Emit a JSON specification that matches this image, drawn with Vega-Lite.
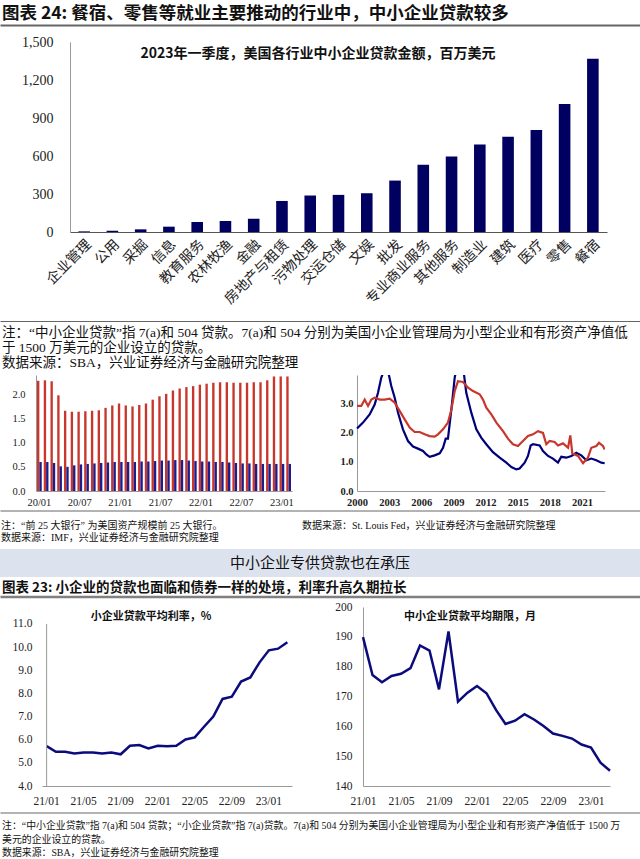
{
"$schema": "https://vega.github.io/schema/vega-lite/v6.json",
"background": "white",
"padding": 0,
"spacing": 0,
"config": {"view": {"stroke": null}, "axis": {"grid": false, "ticks": false, "labelOverlap": false, "labelColor": "#222", "labelFont": "Liberation Serif", "domainColor": "#999", "minExtent": 0}},
"vconcat": [
{
 "width": 640, "height": 35,
 "data": {"values": [{"t": "图表 24: 餐宿、零售等就业主要推动的行业中，中小企业贷款较多"}]},
 "mark": {"type": "text", "align": "left", "baseline": "middle", "font": "Noto Sans CJK SC", "fontSize": 17.5, "fontWeight": "bold", "color": "#111", "dx": 2, "dy": -4},
 "encoding": {
  "text": {"field": "t", "type": "nominal"},
  "x": {"datum": 0, "type": "quantitative", "scale": {"domain": [0, 1]}, "axis": {"orient": "top", "offset": -25, "labels": false, "ticks": false, "domainColor": "#666", "domainWidth": 2, "title": null}}
 }
},
{
 "width": 607, "height": 190,
 "layer": [
  {
   "data": {"values": [
    {"industry": "企业管理", "loans": 5},
    {"industry": "公用", "loans": 10},
    {"industry": "采掘", "loans": 21},
    {"industry": "信息", "loans": 42},
    {"industry": "教育服务", "loans": 79},
    {"industry": "农林牧渔", "loans": 87},
    {"industry": "金融", "loans": 105},
    {"industry": "房地产与租赁", "loans": 245},
    {"industry": "污物处理", "loans": 288},
    {"industry": "交运仓储", "loans": 293},
    {"industry": "文娱", "loans": 306},
    {"industry": "批发", "loans": 406},
    {"industry": "专业商业服务", "loans": 530},
    {"industry": "其他服务", "loans": 596},
    {"industry": "制造业", "loans": 691},
    {"industry": "建筑", "loans": 752},
    {"industry": "医疗", "loans": 805},
    {"industry": "零售", "loans": 1010},
    {"industry": "餐宿", "loans": 1368}
   ]},
   "mark": {"type": "bar", "color": "#000060"},
   "encoding": {
    "x": {"field": "industry", "type": "nominal", "sort": null, "scale": {"range": [70, 607], "paddingInner": 0.59, "paddingOuter": 0.295},
      "axis": {"title": null, "labelAngle": -45, "labelFont": "Noto Sans CJK SC", "labelFontSize": 14, "labelPadding": 5, "labelBound": false, "domainColor": "#555", "minExtent": 80, "maxExtent": 80}},
    "y": {"field": "loans", "type": "quantitative", "scale": {"domain": [0, 1500], "nice": false},
      "axis": {"title": null, "offset": -70, "values": [0, 300, 600, 900, 1200, 1500], "format": ",d", "labelFontSize": 14, "labelPadding": 17}}
   }
  },
  {
   "data": {"values": [{"t": "2023年一季度，美国各行业中小企业贷款金额，百万美元"}]},
   "mark": {"type": "text", "font": "Noto Sans CJK SC", "fontWeight": "bold", "fontSize": 14, "color": "#111", "dx": 14.5, "dy": -83},
   "encoding": {"text": {"field": "t", "type": "nominal"}}
  }
 ]
},
{
 "width": 640, "height": 63,
 "data": {"values": [
  {"line": 1, "t": "注：“中小企业贷款”指 7(a)和 504 贷款。7(a)和 504 分别为美国小企业管理局为小型企业和有形资产净值低"},
  {"line": 2, "t": "于 1500 万美元的企业设立的贷款。"},
  {"line": 3, "t": "数据来源：SBA，兴业证券经济与金融研究院整理"}
 ]},
 "mark": {"type": "text", "align": "left", "baseline": "middle", "font": "'Liberation Serif', 'Noto Sans CJK SC'", "fontSize": 13.5, "color": "#111", "dx": 2},
 "encoding": {
  "text": {"field": "t", "type": "nominal"},
  "y": {"field": "line", "type": "ordinal", "scale": {"type": "point", "padding": 0, "range": [21, 51]}, "axis": null},
  "x": {"datum": 0, "type": "quantitative", "scale": {"domain": [0, 1]}, "axis": {"orient": "top", "offset": -9, "labels": false, "ticks": false, "domainColor": "#666", "domainWidth": 1.2, "title": null}}
 }
},
{
 "bounds": "flush",
 "spacing": 30,
 "resolve": {"scale": {"color": "independent"}},
 "hconcat": [
  {
   "width": 292, "height": 116,
   "data": {"values": [
    {"m": "20/01", "series": "系列1", "v": 2.28}, {"m": "20/01", "series": "系列2", "v": 0.60},
    {"m": "20/02", "series": "系列1", "v": 2.29}, {"m": "20/02", "series": "系列2", "v": 0.60},
    {"m": "20/03", "series": "系列1", "v": 2.27}, {"m": "20/03", "series": "系列2", "v": 0.58},
    {"m": "20/04", "series": "系列1", "v": 1.98}, {"m": "20/04", "series": "系列2", "v": 0.51},
    {"m": "20/05", "series": "系列1", "v": 1.66}, {"m": "20/05", "series": "系列2", "v": 0.50},
    {"m": "20/06", "series": "系列1", "v": 1.64}, {"m": "20/06", "series": "系列2", "v": 0.53},
    {"m": "20/07", "series": "系列1", "v": 1.64}, {"m": "20/07", "series": "系列2", "v": 0.55},
    {"m": "20/08", "series": "系列1", "v": 1.65}, {"m": "20/08", "series": "系列2", "v": 0.56},
    {"m": "20/09", "series": "系列1", "v": 1.66}, {"m": "20/09", "series": "系列2", "v": 0.57},
    {"m": "20/10", "series": "系列1", "v": 1.67}, {"m": "20/10", "series": "系列2", "v": 0.58},
    {"m": "20/11", "series": "系列1", "v": 1.72}, {"m": "20/11", "series": "系列2", "v": 0.59},
    {"m": "20/12", "series": "系列1", "v": 1.77}, {"m": "20/12", "series": "系列2", "v": 0.60},
    {"m": "21/01", "series": "系列1", "v": 1.81}, {"m": "21/01", "series": "系列2", "v": 0.60},
    {"m": "21/02", "series": "系列1", "v": 1.77}, {"m": "21/02", "series": "系列2", "v": 0.60},
    {"m": "21/03", "series": "系列1", "v": 1.75}, {"m": "21/03", "series": "系列2", "v": 0.60},
    {"m": "21/04", "series": "系列1", "v": 1.78}, {"m": "21/04", "series": "系列2", "v": 0.61},
    {"m": "21/05", "series": "系列1", "v": 1.81}, {"m": "21/05", "series": "系列2", "v": 0.61},
    {"m": "21/06", "series": "系列1", "v": 1.89}, {"m": "21/06", "series": "系列2", "v": 0.62},
    {"m": "21/07", "series": "系列1", "v": 1.96}, {"m": "21/07", "series": "系列2", "v": 0.63},
    {"m": "21/08", "series": "系列1", "v": 2.01}, {"m": "21/08", "series": "系列2", "v": 0.63},
    {"m": "21/09", "series": "系列1", "v": 2.08}, {"m": "21/09", "series": "系列2", "v": 0.64},
    {"m": "21/10", "series": "系列1", "v": 2.12}, {"m": "21/10", "series": "系列2", "v": 0.64},
    {"m": "21/11", "series": "系列1", "v": 2.15}, {"m": "21/11", "series": "系列2", "v": 0.63},
    {"m": "21/12", "series": "系列1", "v": 2.17}, {"m": "21/12", "series": "系列2", "v": 0.62},
    {"m": "22/01", "series": "系列1", "v": 2.20}, {"m": "22/01", "series": "系列2", "v": 0.61},
    {"m": "22/02", "series": "系列1", "v": 2.22}, {"m": "22/02", "series": "系列2", "v": 0.61},
    {"m": "22/03", "series": "系列1", "v": 2.24}, {"m": "22/03", "series": "系列2", "v": 0.60},
    {"m": "22/04", "series": "系列1", "v": 2.25}, {"m": "22/04", "series": "系列2", "v": 0.60},
    {"m": "22/05", "series": "系列1", "v": 2.25}, {"m": "22/05", "series": "系列2", "v": 0.59},
    {"m": "22/06", "series": "系列1", "v": 2.24}, {"m": "22/06", "series": "系列2", "v": 0.58},
    {"m": "22/07", "series": "系列1", "v": 2.24}, {"m": "22/07", "series": "系列2", "v": 0.57},
    {"m": "22/08", "series": "系列1", "v": 2.24}, {"m": "22/08", "series": "系列2", "v": 0.57},
    {"m": "22/09", "series": "系列1", "v": 2.25}, {"m": "22/09", "series": "系列2", "v": 0.56},
    {"m": "22/10", "series": "系列1", "v": 2.25}, {"m": "22/10", "series": "系列2", "v": 0.56},
    {"m": "22/11", "series": "系列1", "v": 2.29}, {"m": "22/11", "series": "系列2", "v": 0.56},
    {"m": "22/12", "series": "系列1", "v": 2.37}, {"m": "22/12", "series": "系列2", "v": 0.56},
    {"m": "23/01", "series": "系列1", "v": 2.37}, {"m": "23/01", "series": "系列2", "v": 0.56},
    {"m": "23/02", "series": "系列1", "v": 2.37}, {"m": "23/02", "series": "系列2", "v": 0.56}
   ]},
   "mark": {"type": "bar"},
   "encoding": {
    "x": {"field": "m", "type": "ordinal", "scale": {"range": [36, 292], "paddingInner": 0.3, "paddingOuter": 0.15},
      "axis": {"title": null, "values": ["20/01", "20/07", "21/01", "21/07", "22/01", "22/07", "23/01"], "labelAngle": 0, "labelFontSize": 10.5, "labelPadding": 6, "minExtent": 19, "maxExtent": 19}},
    "xOffset": {"field": "series", "type": "nominal", "sort": ["系列1", "系列2"]},
    "y": {"field": "v", "type": "quantitative", "scale": {"domain": [0, 2.4], "nice": false},
      "axis": {"title": null, "offset": -36, "values": [0, 0.5, 1, 1.5, 2], "format": ".1f", "labelFontSize": 10.5, "labelPadding": 11}},
    "color": {"field": "series", "type": "nominal", "scale": {"domain": ["系列1", "系列2"], "range": ["#c8372d", "#1c1c8c"]}, "legend": null}
   }
  },
  {
   "width": 283, "height": 116,
   "data": {"values": [
    {"year": 2000.0, "series": "蓝线", "v": 2.14}, {"year": 2000.56, "series": "蓝线", "v": 2.34}, {"year": 2001.18, "series": "蓝线", "v": 2.62}, {"year": 2001.65, "series": "蓝线", "v": 2.96}, {"year": 2001.96, "series": "蓝线", "v": 3.36}, {"year": 2002.27, "series": "蓝线", "v": 3.88}, {"year": 2002.6, "series": "蓝线", "v": 4.2}, {"year": 2002.9, "series": "蓝线", "v": 4.1}, {"year": 2003.2, "series": "蓝线", "v": 3.59}, {"year": 2003.52, "series": "蓝线", "v": 3.19}, {"year": 2003.83, "series": "蓝线", "v": 2.68}, {"year": 2004.29, "series": "蓝线", "v": 2.11}, {"year": 2004.76, "series": "蓝线", "v": 1.71}, {"year": 2005.23, "series": "蓝线", "v": 1.52}, {"year": 2005.69, "series": "蓝线", "v": 1.45}, {"year": 2006.16, "series": "蓝线", "v": 1.37}, {"year": 2006.47, "series": "蓝线", "v": 1.25}, {"year": 2006.78, "series": "蓝线", "v": 1.17}, {"year": 2007.25, "series": "蓝线", "v": 1.22}, {"year": 2007.72, "series": "蓝线", "v": 1.29}, {"year": 2008.03, "series": "蓝线", "v": 1.48}, {"year": 2008.28, "series": "蓝线", "v": 1.79}, {"year": 2008.49, "series": "蓝线", "v": 1.79}, {"year": 2008.81, "series": "蓝线", "v": 2.79}, {"year": 2009.12, "series": "蓝线", "v": 3.88}, {"year": 2009.4, "series": "蓝线", "v": 4.4}, {"year": 2009.95, "series": "蓝线", "v": 4.1}, {"year": 2010.2, "series": "蓝线", "v": 3.36}, {"year": 2010.67, "series": "蓝线", "v": 2.68}, {"year": 2011.14, "series": "蓝线", "v": 2.11}, {"year": 2011.61, "series": "蓝线", "v": 1.82}, {"year": 2012.07, "series": "蓝线", "v": 1.6}, {"year": 2012.69, "series": "蓝线", "v": 1.33}, {"year": 2013.32, "series": "蓝线", "v": 1.14}, {"year": 2013.94, "series": "蓝线", "v": 0.97}, {"year": 2014.41, "series": "蓝线", "v": 0.82}, {"year": 2014.87, "series": "蓝线", "v": 0.74}, {"year": 2015.18, "series": "蓝线", "v": 0.77}, {"year": 2015.65, "series": "蓝线", "v": 0.97}, {"year": 2015.96, "series": "蓝线", "v": 1.2}, {"year": 2016.21, "series": "蓝线", "v": 1.56}, {"year": 2016.43, "series": "蓝线", "v": 1.6}, {"year": 2017.05, "series": "蓝线", "v": 1.56}, {"year": 2017.36, "series": "蓝线", "v": 1.37}, {"year": 2017.83, "series": "蓝线", "v": 1.2}, {"year": 2018.29, "series": "蓝线", "v": 1.11}, {"year": 2018.76, "series": "蓝线", "v": 0.97}, {"year": 2019.07, "series": "蓝线", "v": 1.17}, {"year": 2019.54, "series": "蓝线", "v": 1.14}, {"year": 2020.01, "series": "蓝线", "v": 1.2}, {"year": 2020.47, "series": "蓝线", "v": 1.31}, {"year": 2020.94, "series": "蓝线", "v": 1.22}, {"year": 2021.41, "series": "蓝线", "v": 1.05}, {"year": 2021.87, "series": "蓝线", "v": 1.11}, {"year": 2022.34, "series": "蓝线", "v": 1.05}, {"year": 2022.81, "series": "蓝线", "v": 0.97}, {"year": 2023.12, "series": "蓝线", "v": 0.95},
    {"year": 2000.0, "series": "红线", "v": 2.91}, {"year": 2000.4, "series": "红线", "v": 2.91}, {"year": 2000.72, "series": "红线", "v": 3.13}, {"year": 2001.03, "series": "红线", "v": 2.91}, {"year": 2001.34, "series": "红线", "v": 3.13}, {"year": 2001.65, "series": "红线", "v": 3.19}, {"year": 2002.12, "series": "红线", "v": 3.13}, {"year": 2002.58, "series": "红线", "v": 3.13}, {"year": 2003.05, "series": "红线", "v": 3.16}, {"year": 2003.52, "series": "红线", "v": 3.02}, {"year": 2003.98, "series": "红线", "v": 2.74}, {"year": 2004.45, "series": "红线", "v": 2.45}, {"year": 2004.92, "series": "红线", "v": 2.17}, {"year": 2005.38, "series": "红线", "v": 2.02}, {"year": 2005.85, "series": "红线", "v": 2.02}, {"year": 2006.32, "series": "红线", "v": 1.94}, {"year": 2006.78, "series": "红线", "v": 1.88}, {"year": 2007.25, "series": "红线", "v": 1.86}, {"year": 2007.56, "series": "红线", "v": 1.94}, {"year": 2008.03, "series": "红线", "v": 2.11}, {"year": 2008.49, "series": "红线", "v": 2.34}, {"year": 2008.81, "series": "红线", "v": 2.79}, {"year": 2009.12, "series": "红线", "v": 3.42}, {"year": 2009.43, "series": "红线", "v": 3.76}, {"year": 2009.89, "series": "红线", "v": 3.73}, {"year": 2010.36, "series": "红线", "v": 3.54}, {"year": 2010.83, "series": "红线", "v": 3.42}, {"year": 2011.45, "series": "红线", "v": 3.31}, {"year": 2011.76, "series": "红线", "v": 3.13}, {"year": 2012.07, "series": "红线", "v": 2.85}, {"year": 2012.54, "series": "红线", "v": 2.62}, {"year": 2013.01, "series": "红线", "v": 2.34}, {"year": 2013.63, "series": "红线", "v": 2.05}, {"year": 2014.09, "series": "红线", "v": 1.79}, {"year": 2014.56, "series": "红线", "v": 1.6}, {"year": 2015.03, "series": "红线", "v": 1.54}, {"year": 2015.49, "series": "红线", "v": 1.71}, {"year": 2015.96, "series": "红线", "v": 1.88}, {"year": 2016.43, "series": "红线", "v": 1.94}, {"year": 2016.89, "series": "红线", "v": 2.05}, {"year": 2017.36, "series": "红线", "v": 1.99}, {"year": 2017.67, "series": "红线", "v": 1.6}, {"year": 2017.98, "series": "红线", "v": 1.71}, {"year": 2018.45, "series": "红线", "v": 1.68}, {"year": 2018.76, "series": "红线", "v": 1.56}, {"year": 2019.23, "series": "红线", "v": 1.63}, {"year": 2019.7, "series": "红线", "v": 1.48}, {"year": 2019.91, "series": "红线", "v": 1.9}, {"year": 2020.1, "series": "红线", "v": 1.29}, {"year": 2020.63, "series": "红线", "v": 1.2}, {"year": 2021.1, "series": "红线", "v": 0.95}, {"year": 2021.56, "series": "红线", "v": 1.14}, {"year": 2021.87, "series": "红线", "v": 1.48}, {"year": 2022.34, "series": "红线", "v": 1.54}, {"year": 2022.59, "series": "红线", "v": 1.65}, {"year": 2022.96, "series": "红线", "v": 1.54}, {"year": 2023.12, "series": "红线", "v": 1.42}
   ]},
   "mark": {"type": "line", "clip": true, "strokeWidth": 2.2},
   "encoding": {
    "x": {"field": "year", "type": "quantitative", "scale": {"domain": [2000, 2023.15], "range": [35, 283], "nice": false, "zero": false},
      "axis": {"title": null, "values": [2000, 2003, 2006, 2009, 2012, 2015, 2018, 2021], "format": "d", "labelFlush": false, "labelFontSize": 10.5, "labelFontWeight": "bold", "labelPadding": 6, "minExtent": 19, "maxExtent": 19}},
    "y": {"field": "v", "type": "quantitative", "scale": {"domain": [0, 3.97], "nice": false},
      "axis": {"title": null, "offset": -35, "values": [0, 1, 2, 3], "format": ".1f", "labelFontSize": 10.5, "labelFontWeight": "bold", "labelPadding": 4}},
    "color": {"field": "series", "type": "nominal", "scale": {"domain": ["蓝线", "红线"], "range": ["#00007a", "#c8372d"]}, "legend": null}
   }
  }
 ]
},
{
 "spacing": 0,
 "hconcat": [
  {
   "width": 302, "height": 39,
   "data": {"values": [
    {"line": 1, "t": "注：“前 25 大银行” 为美国资产规模前 25 大银行。"},
    {"line": 2, "t": "数据来源：IMF，兴业证券经济与金融研究院整理"}
   ]},
   "mark": {"type": "text", "align": "left", "baseline": "middle", "font": "'Liberation Serif', 'Noto Sans CJK SC'", "fontSize": 10, "color": "#111", "dx": 1},
   "encoding": {
    "text": {"field": "t", "type": "nominal"},
    "y": {"field": "line", "type": "ordinal", "scale": {"type": "point", "padding": 0, "domain": [1, 2], "range": [15.5, 28]}, "axis": null},
    "x": {"datum": 0, "type": "quantitative", "scale": {"domain": [0, 1]}, "axis": {"orient": "top", "offset": -0.5, "labels": false, "ticks": false, "domainColor": "#666", "domainWidth": 1, "title": null}}
   }
  },
  {
   "width": 338, "height": 39,
   "data": {"values": [
    {"line": 1, "t": "数据来源：St. Louis Fed，兴业证券经济与金融研究院整理"}
   ]},
   "mark": {"type": "text", "align": "left", "baseline": "middle", "font": "'Liberation Serif', 'Noto Sans CJK SC'", "fontSize": 10, "color": "#111"},
   "encoding": {
    "text": {"field": "t", "type": "nominal"},
    "y": {"field": "line", "type": "ordinal", "scale": {"type": "point", "padding": 0, "domain": [1, 2], "range": [15.5, 28]}, "axis": null},
    "x": {"datum": 0, "type": "quantitative", "scale": {"domain": [0, 1]}, "axis": {"orient": "top", "offset": -0.5, "labels": false, "ticks": false, "domainColor": "#666", "domainWidth": 1, "title": null}}
   }
  }
 ]
},
{
 "width": 640, "height": 28,
 "view": {"fill": "#dde3ee", "stroke": null},
 "data": {"values": [{"t": "中小企业专供贷款也在承压"}]},
 "mark": {"type": "text", "font": "Noto Sans CJK SC", "fontSize": 15, "color": "#111"},
 "encoding": {"text": {"field": "t", "type": "nominal"}}
},
{
 "width": 640, "height": 24,
 "data": {"values": [{"t": "图表 23: 小企业的贷款也面临和债券一样的处境，利率升高久期拉长"}]},
 "mark": {"type": "text", "align": "left", "baseline": "middle", "font": "Noto Sans CJK SC", "fontSize": 13.5, "fontWeight": "bold", "color": "#111", "dx": 2, "dy": -1},
 "encoding": {
  "text": {"field": "t", "type": "nominal"},
  "x": {"datum": 0, "type": "quantitative", "scale": {"domain": [0, 1]}, "axis": {"orient": "top", "offset": -19.5, "labels": false, "ticks": false, "domainColor": "#808080", "domainWidth": 2.5, "title": null}}
 }
},
{
 "bounds": "flush",
 "spacing": 30,
 "hconcat": [
  {
   "width": 292, "height": 179,
   "layer": [
    {
     "data": {"values": [
      {"m": "21/01", "rate": 5.72}, {"m": "21/02", "rate": 5.48}, {"m": "21/03", "rate": 5.48}, {"m": "21/04", "rate": 5.40}, {"m": "21/05", "rate": 5.45}, {"m": "21/06", "rate": 5.45}, {"m": "21/07", "rate": 5.40}, {"m": "21/08", "rate": 5.45}, {"m": "21/09", "rate": 5.37}, {"m": "21/10", "rate": 5.74}, {"m": "21/11", "rate": 5.77}, {"m": "21/12", "rate": 5.62},
      {"m": "22/01", "rate": 5.74}, {"m": "22/02", "rate": 5.72}, {"m": "22/03", "rate": 5.74}, {"m": "22/04", "rate": 6.01}, {"m": "22/05", "rate": 6.10}, {"m": "22/06", "rate": 6.56}, {"m": "22/07", "rate": 7.00}, {"m": "22/08", "rate": 7.76}, {"m": "22/09", "rate": 7.86}, {"m": "22/10", "rate": 8.51}, {"m": "22/11", "rate": 8.69}, {"m": "22/12", "rate": 9.34},
      {"m": "23/01", "rate": 9.86}, {"m": "23/02", "rate": 9.93}, {"m": "23/03", "rate": 10.21}
     ]},
     "mark": {"type": "line", "color": "#0b0b7d", "strokeWidth": 2.5},
     "encoding": {
      "x": {"field": "m", "type": "ordinal", "scale": {"padding": 0, "range": [42, 292]},
        "axis": {"title": null, "values": ["21/01", "21/05", "21/09", "22/01", "22/05", "22/09", "23/01"], "labelAngle": 0, "labelFontSize": 11.5, "labelPadding": 9, "minExtent": 26, "maxExtent": 26}},
      "y": {"field": "rate", "type": "quantitative", "scale": {"domain": [4, 11.73], "nice": false, "zero": false},
        "axis": {"title": null, "offset": -42, "values": [4, 5, 6, 7, 8, 9, 10, 11], "format": ".1f", "domain": false, "labelFontSize": 11.5, "labelPadding": 10}}
     }
    },
    {
     "data": {"values": [{"part": "y轴"}]},
     "mark": {"type": "rule", "color": "#999"},
     "encoding": {
      "x": {"datum": "21/01", "type": "ordinal", "axis": {"title": null, "values": ["21/01", "21/05", "21/09", "22/01", "22/05", "22/09", "23/01"], "labelAngle": 0, "labelFontSize": 11.5, "labelPadding": 9, "minExtent": 26, "maxExtent": 26}},
      "y": {"datum": 4, "type": "quantitative", "axis": {"title": null, "offset": -42, "values": [4, 5, 6, 7, 8, 9, 10, 11], "format": ".1f", "domain": false, "labelFontSize": 11.5, "labelPadding": 10}},
      "y2": {"datum": 11}
     }
    },
    {
     "data": {"values": [{"t": "小企业贷款平均利率，%"}]},
     "mark": {"type": "text", "font": "Noto Sans CJK SC", "fontWeight": "bold", "fontSize": 11, "color": "#111", "dx": 5, "dy": -79.5},
     "encoding": {"text": {"field": "t", "type": "nominal"}}
    }
   ]
  },
  {
   "width": 288, "height": 179,
   "layer": [
    {
     "data": {"values": [
      {"m": "21/01", "term": 189.9}, {"m": "21/02", "term": 177.2}, {"m": "21/03", "term": 174.8}, {"m": "21/04", "term": 176.9}, {"m": "21/05", "term": 177.6}, {"m": "21/06", "term": 179.5}, {"m": "21/07", "term": 187.1}, {"m": "21/08", "term": 185.4}, {"m": "21/09", "term": 172.4}, {"m": "21/10", "term": 191.8}, {"m": "21/11", "term": 168.3}, {"m": "21/12", "term": 171.3},
      {"m": "22/01", "term": 173.5}, {"m": "22/02", "term": 171.1}, {"m": "22/03", "term": 165.5}, {"m": "22/04", "term": 160.8}, {"m": "22/05", "term": 161.9}, {"m": "22/06", "term": 164.1}, {"m": "22/07", "term": 162.3}, {"m": "22/08", "term": 160.1}, {"m": "22/09", "term": 157.6}, {"m": "22/10", "term": 156.8}, {"m": "22/11", "term": 155.9}, {"m": "22/12", "term": 153.9},
      {"m": "23/01", "term": 152.9}, {"m": "23/02", "term": 147.8}, {"m": "23/03", "term": 145.1}
     ]},
     "mark": {"type": "line", "color": "#0b0b7d", "strokeWidth": 2.5},
     "encoding": {
      "x": {"field": "m", "type": "ordinal", "scale": {"padding": 0, "range": [41, 288]},
        "axis": {"title": null, "values": ["21/01", "21/05", "21/09", "22/01", "22/05", "22/09", "23/01"], "labelAngle": 0, "labelFontSize": 11.5, "labelPadding": 9, "minExtent": 26, "maxExtent": 26}},
      "y": {"field": "term", "type": "quantitative", "scale": {"domain": [140, 200], "nice": false, "zero": false},
        "axis": {"title": null, "offset": -41, "values": [140, 150, 160, 170, 180, 190, 200], "format": "d", "labelFontSize": 11.5, "labelPadding": 11}}
     }
    },
    {
     "data": {"values": [{"t": "中小企业贷款平均期限，月"}]},
     "mark": {"type": "text", "font": "Noto Sans CJK SC", "fontWeight": "bold", "fontSize": 11, "color": "#111", "dx": 4, "dy": -79.5},
     "encoding": {"text": {"field": "t", "type": "nominal"}}
    }
   ]
  }
 ]
},
{
 "width": 640, "height": 47,
 "data": {"values": [
  {"line": 1, "t": "注：“中小企业贷款”指 7(a)和 504 贷款；“小企业贷款”指 7(a)贷款。7(a)和 504 分别为美国小企业管理局为小型企业和有形资产净值低于 1500 万"},
  {"line": 2, "t": "美元的企业设立的贷款。"},
  {"line": 3, "t": "数据来源：SBA，兴业证券经济与金融研究院整理"}
 ]},
 "mark": {"type": "text", "align": "left", "baseline": "middle", "font": "'Liberation Serif', 'Noto Sans CJK SC'", "fontSize": 9.9, "color": "#111", "dx": 2},
 "encoding": {
  "text": {"field": "t", "type": "nominal"},
  "y": {"field": "line", "type": "ordinal", "scale": {"type": "point", "padding": 0, "range": [14, 41]}, "axis": null},
  "x": {"datum": 0, "type": "quantitative", "scale": {"domain": [0, 1]}, "axis": {"orient": "top", "offset": -0.5, "labels": false, "ticks": false, "domainColor": "#666", "domainWidth": 1, "title": null}}
 }
}
]
}
